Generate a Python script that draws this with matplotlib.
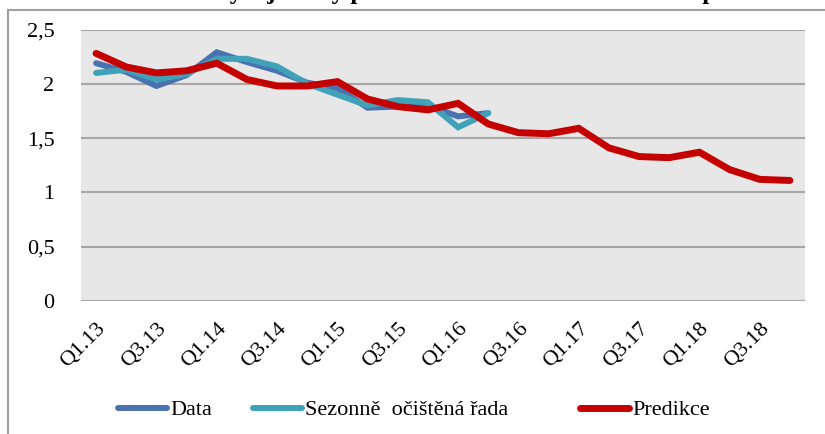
import matplotlib
matplotlib.use("Agg")
import matplotlib.pyplot as plt
from matplotlib.lines import Line2D

plt.rcParams['font.family'] = ['Liberation Serif', 'DejaVu Serif']

quarters = [f"Q{q}.{y}" for y in range(13, 19) for q in range(1, 5)]

data = [2.19, 2.11, 1.98, 2.08, 2.29, 2.20, 2.12, 2.01, 1.96, 1.78, 1.79, 1.80, 1.70, 1.73]
sezonne = [2.10, 2.13, 2.04, 2.09, 2.23, 2.23, 2.16, 2.00, 1.90, 1.80, 1.85, 1.83, 1.60, 1.73]
predikce = [2.28, 2.155, 2.10, 2.12, 2.19, 2.04, 1.98, 1.98, 2.02, 1.86, 1.79, 1.76,
            1.82, 1.63, 1.55, 1.54, 1.59, 1.41, 1.33, 1.32, 1.37, 1.21, 1.12, 1.11]

y_ticks = [0, 0.5, 1, 1.5, 2, 2.5]
y_labels = ["0", "0,5", "1", "1,5", "2", "2,5"]

fs = 16

fig = plt.figure(figsize=(8.25, 4.34), dpi=100)
ax = fig.add_axes([81/825, 1 - 301/434, 724/825, (301 - 29.5)/434])
ax.set_facecolor("#e7e7e7")

l1, = ax.plot(range(len(data)), data, color="#4a72b0", lw=4.3, solid_capstyle="round",
              solid_joinstyle="miter", label="Data")
l2, = ax.plot(range(len(sezonne)), sezonne, color="#3fa2b8", lw=4.3, solid_capstyle="round",
              solid_joinstyle="miter", label="Sezonně  očištěná řada")
l3, = ax.plot(range(len(predikce)), predikce, color="#c40000", lw=5, solid_capstyle="round",
              solid_joinstyle="miter", label="Predikce")

ax.set_xlim(-0.5, 23.5)
ax.set_ylim(0, 2.5)
ax.set_yticks(y_ticks)
ax.set_yticklabels(y_labels, fontsize=fs)
ax.set_xticks(range(0, 24, 2))
ax.set_xticklabels(quarters[::2], rotation=45, ha="right", va="top",
                   rotation_mode="anchor", fontsize=fs)
ax.tick_params(axis="y", length=0, pad=19)
ax.tick_params(axis="x", length=0, pad=13)
ax.grid(axis="y", color="#a6a6a6", lw=1.5)
ax.set_axisbelow(True)
for s in ax.spines.values():
    s.set_visible(False)

# legend entries placed one by one, like the reference
for h, x0 in [(l1, 118), (l2, 253), (l3, 580)]:
    fig.legend(handles=[h], loc="center left", bbox_to_anchor=(x0/825, 1 - 410/434),
               frameon=False, fontsize=fs, handlelength=2.2, handletextpad=0.15,
               borderpad=0, borderaxespad=0)

# outer chart frame (only left and top visible in the crop)
fig.add_artist(Line2D([8/825, 8/825], [0, 1 - 10/434], color="#a0a0a0", lw=1.5,
                      transform=fig.transFigure))
fig.add_artist(Line2D([8/825, 1], [1 - 10/434, 1 - 10/434], color="#a0a0a0", lw=1.5,
                      transform=fig.transFigure))

# title, mostly cut off at the top edge (only the lowest strokes show)
fig.text(0.5, 1 + 1/434, "Graf č. 4: Predikce vývoje míry podle modelu sezonních vlivů do příštích let",
         ha="center", va="baseline", fontsize=18, fontweight="bold")

fig.savefig("out.png", dpi=100)
